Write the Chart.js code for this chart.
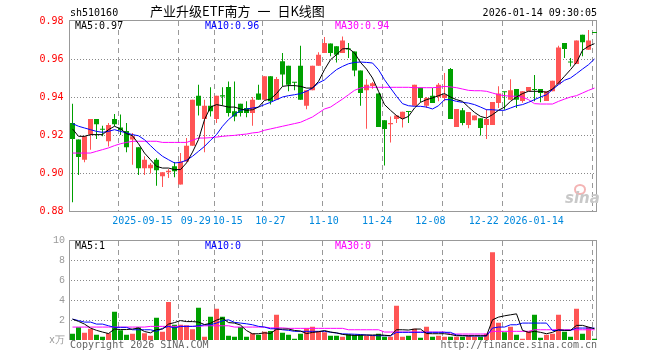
<!DOCTYPE html>
<html><head><meta charset="utf-8">
<script src="https://cdn.jsdelivr.net/npm/chart.js@4.4.1/dist/chart.umd.min.js"></script>
<style>
html,body{margin:0;padding:0;background:#fff;}
#wrap{position:relative;width:660px;height:360px;overflow:hidden;background:#fff;}
canvas{position:absolute;left:0;}
.t{position:absolute;font-family:"DejaVu Sans Mono",monospace;font-size:10px;line-height:12px;white-space:pre;}
</style></head>
<body><div id="wrap">
<canvas id="kc" width="660" height="230" style="top:0;width:660px;height:230px"></canvas>
<canvas id="vc" width="660" height="130" style="top:230px;width:660px;height:130px"></canvas>
<div class="t" style="left:70px;top:7px;color:#000">sh510160</div>
<div class="t" style="left:150px;top:3px;font-family:'Noto Sans CJK SC',sans-serif;font-size:13px;line-height:15px;word-spacing:4px;color:#000">产业升级ETF南方 一 日K线图</div>
<div class="t" style="right:63px;top:7px;color:#000">2026-01-14 09:30:05</div>
<div class="t" style="left:75px;top:20px;color:#000">MA5:0.97</div>
<div class="t" style="left:205px;top:20px;color:#0000ff">MA10:0.96</div>
<div class="t" style="left:335px;top:20px;color:#ff00ff">MA30:0.94</div>
<div class="t" style="left:75px;top:240px;color:#000">MA5:1</div>
<div class="t" style="left:205px;top:240px;color:#0000ff">MA10:0</div>
<div class="t" style="left:335px;top:240px;color:#ff00ff">MA30:0</div>
<div class="t" style="left:70px;top:339px;color:#666">Copyright 2026 SINA.COM</div>
<div class="t" style="right:63px;top:339px;color:#666">http://finance.sina.com.cn</div>
<div style="position:absolute;left:574px;top:184px;width:8px;height:7px;border:2px solid #f4b4b4;border-radius:50%"></div>
<div class="t" style="left:565px;top:190px;font-family:'DejaVu Sans',sans-serif;font-style:italic;font-weight:bold;font-size:15px;line-height:16px;color:#c8c8c8">sina</div>
</div>
<script>
const dates = ['2025-09-03','2025-09-04','2025-09-05','2025-09-08','2025-09-09','2025-09-10','2025-09-11','2025-09-12','2025-09-15','2025-09-16','2025-09-17','2025-09-18','2025-09-19','2025-09-22','2025-09-23','2025-09-24','2025-09-25','2025-09-26','2025-09-29','2025-09-30','2025-10-09','2025-10-10','2025-10-13','2025-10-14','2025-10-15','2025-10-16','2025-10-17','2025-10-20','2025-10-21','2025-10-22','2025-10-23','2025-10-24','2025-10-27','2025-10-28','2025-10-29','2025-10-30','2025-10-31','2025-11-03','2025-11-04','2025-11-05','2025-11-06','2025-11-07','2025-11-10','2025-11-11','2025-11-12','2025-11-13','2025-11-14','2025-11-17','2025-11-18','2025-11-19','2025-11-20','2025-11-21','2025-11-24','2025-11-25','2025-11-26','2025-11-27','2025-11-28','2025-12-01','2025-12-02','2025-12-03','2025-12-04','2025-12-05','2025-12-08','2025-12-09','2025-12-10','2025-12-11','2025-12-12','2025-12-15','2025-12-16','2025-12-17','2025-12-18','2025-12-19','2025-12-22','2025-12-23','2025-12-24','2025-12-25','2025-12-26','2025-12-29','2025-12-30','2025-12-31','2026-01-05','2026-01-06','2026-01-07','2026-01-08','2026-01-09','2026-01-12','2026-01-13','2026-01-14'];

const openP = [0.9263,0.9176,0.9070,0.9202,0.9284,0.9233,0.9167,0.9284,0.9240,0.9221,0.9176,0.9135,0.9025,0.9025,0.9070,0.8983,0.9004,0.9035,0.8940,0.9061,0.9144,0.9407,0.9284,0.9354,0.9284,0.9409,0.9453,0.9325,0.9365,0.9342,0.9316,0.9418,0.9386,0.9509,0.9386,0.9588,0.9565,0.9479,0.9565,0.9354,0.9435,0.9565,0.9632,0.9681,0.9667,0.9632,0.9655,0.9640,0.9540,0.9435,0.9458,0.9418,0.9277,0.9256,0.9284,0.9288,0.9325,0.9354,0.9449,0.9354,0.9407,0.9400,0.9395,0.9547,0.9242,0.9330,0.9253,0.9277,0.9288,0.9253,0.9253,0.9368,0.9428,0.9386,0.9442,0.9379,0.9430,0.9440,0.9442,0.9379,0.9430,0.9467,0.9684,0.9584,0.9574,0.9728,0.9649,0.9737];
const highP = [0.9365,0.9176,0.9193,0.9284,0.9284,0.9249,0.9263,0.9311,0.9308,0.9263,0.9211,0.9135,0.9088,0.9053,0.9079,0.9004,0.9021,0.9058,0.9105,0.9184,0.9386,0.9465,0.9386,0.9451,0.9407,0.9451,0.9482,0.9482,0.9365,0.9377,0.9400,0.9465,0.9509,0.9509,0.9505,0.9632,0.9565,0.9479,0.9670,0.9435,0.9565,0.9635,0.9716,0.9681,0.9667,0.9719,0.9684,0.9640,0.9540,0.9493,0.9479,0.9418,0.9277,0.9298,0.9305,0.9323,0.9325,0.9465,0.9449,0.9400,0.9447,0.9474,0.9526,0.9553,0.9337,0.9342,0.9321,0.9302,0.9288,0.9335,0.9374,0.9456,0.9428,0.9493,0.9442,0.9430,0.9453,0.9516,0.9442,0.9430,0.9486,0.9670,0.9684,0.9605,0.9697,0.9728,0.9753,0.9737];
const lowP = [0.8846,0.8990,0.9056,0.9123,0.9179,0.9193,0.9140,0.9246,0.9200,0.9109,0.9044,0.8990,0.8990,0.8997,0.8933,0.8926,0.8974,0.8977,0.8940,0.9061,0.9144,0.9302,0.9109,0.9298,0.9263,0.9354,0.9298,0.9272,0.9298,0.9293,0.9249,0.9386,0.9386,0.9360,0.9386,0.9456,0.9430,0.9435,0.9386,0.9335,0.9435,0.9565,0.9632,0.9614,0.9582,0.9632,0.9605,0.9509,0.9354,0.9233,0.9444,0.9242,0.9040,0.9161,0.9263,0.9240,0.9263,0.9354,0.9372,0.9342,0.9368,0.9377,0.9377,0.9284,0.9242,0.9251,0.9235,0.9277,0.9197,0.9179,0.9253,0.9342,0.9333,0.9386,0.9342,0.9370,0.9430,0.9377,0.9372,0.9379,0.9430,0.9467,0.9605,0.9561,0.9574,0.9614,0.9649,0.9737];
const closeP = [0.9179,0.9084,0.9193,0.9284,0.9256,0.9228,0.9253,0.9256,0.9225,0.9135,0.9193,0.9025,0.9070,0.9044,0.9014,0.9004,0.9012,0.9009,0.9061,0.9144,0.9386,0.9354,0.9354,0.9325,0.9407,0.9403,0.9316,0.9298,0.9316,0.9316,0.9386,0.9386,0.9509,0.9377,0.9495,0.9518,0.9465,0.9475,0.9386,0.9435,0.9565,0.9623,0.9684,0.9632,0.9623,0.9698,0.9650,0.9540,0.9421,0.9465,0.9472,0.9242,0.9232,0.9263,0.9302,0.9323,0.9321,0.9465,0.9395,0.9395,0.9368,0.9465,0.9412,0.9284,0.9337,0.9263,0.9321,0.9302,0.9237,0.9284,0.9374,0.9418,0.9425,0.9435,0.9386,0.9430,0.9453,0.9437,0.9421,0.9430,0.9486,0.9661,0.9653,0.9582,0.9697,0.9688,0.9697,0.9737];

const ma5 = [0.9232,0.9193,0.9193,0.9202,0.9202,0.9202,0.9228,0.9246,0.9232,0.9207,0.9196,0.9154,0.9105,0.9070,0.9035,0.9026,0.9026,0.9018,0.9018,0.9053,0.9110,0.9176,0.9281,0.9347,0.9360,0.9354,0.9347,0.9347,0.9337,0.9330,0.9333,0.9347,0.9382,0.9389,0.9418,0.9456,0.9460,0.9460,0.9456,0.9447,0.9447,0.9482,0.9544,0.9596,0.9623,0.9653,0.9656,0.9632,0.9582,0.9547,0.9500,0.9430,0.9360,0.9330,0.9302,0.9284,0.9298,0.9342,0.9372,0.9386,0.9395,0.9407,0.9418,0.9400,0.9386,0.9377,0.9347,0.9319,0.9298,0.9289,0.9307,0.9330,0.9347,0.9377,0.9400,0.9418,0.9430,0.9430,0.9430,0.9425,0.9442,0.9474,0.9509,0.9544,0.9582,0.9646,0.9667,0.9681];
const ma10 = [0.9260,0.9246,0.9237,0.9228,0.9219,0.9214,0.9219,0.9228,0.9219,0.9211,0.9202,0.9196,0.9175,0.9144,0.9114,0.9088,0.9070,0.9053,0.9056,0.9067,0.9088,0.9114,0.9140,0.9172,0.9202,0.9246,0.9281,0.9307,0.9330,0.9337,0.9342,0.9347,0.9360,0.9372,0.9386,0.9400,0.9407,0.9412,0.9418,0.9430,0.9447,0.9474,0.9490,0.9518,0.9544,0.9561,0.9575,0.9582,0.9584,0.9582,0.9579,0.9544,0.9491,0.9447,0.9404,0.9365,0.9354,0.9351,0.9351,0.9347,0.9337,0.9354,0.9386,0.9386,0.9377,0.9372,0.9368,0.9360,0.9347,0.9333,0.9333,0.9330,0.9330,0.9342,0.9354,0.9360,0.9372,0.9386,0.9400,0.9412,0.9439,0.9465,0.9488,0.9500,0.9523,0.9547,0.9570,0.9600];
const ma30 = [0.9105,0.9105,0.9105,0.9105,0.9114,0.9123,0.9132,0.9144,0.9154,0.9161,0.9167,0.9167,0.9167,0.9167,0.9167,0.9161,0.9161,0.9161,0.9161,0.9161,0.9172,0.9184,0.9184,0.9186,0.9189,0.9193,0.9196,0.9198,0.9202,0.9205,0.9211,0.9214,0.9225,0.9232,0.9239,0.9246,0.9253,0.9260,0.9267,0.9281,0.9295,0.9316,0.9337,0.9347,0.9368,0.9389,0.9412,0.9435,0.9447,0.9453,0.9451,0.9451,0.9451,0.9451,0.9451,0.9451,0.9451,0.9449,0.9449,0.9449,0.9449,0.9451,0.9456,0.9453,0.9449,0.9442,0.9435,0.9433,0.9433,0.9430,0.9421,0.9412,0.9407,0.9404,0.9404,0.9400,0.9386,0.9365,0.9363,0.9363,0.9363,0.9377,0.9389,0.9400,0.9407,0.9421,0.9435,0.9447];

const volume = [0.63,1.27,0.73,1.13,0.53,0.33,0.67,2.83,0.97,0.53,0.63,1.27,0.67,0.43,2.23,0.83,3.83,1.53,1.53,1.47,1.07,3.23,0.33,2.33,3.13,2.33,0.43,0.33,1.30,0.33,0.67,0.53,0.83,0.90,2.53,0.73,0.53,0.13,0.63,1.17,1.33,0.87,0.77,0.43,0.43,0.33,0.57,0.53,0.53,0.43,0.43,0.63,0.33,0.33,3.43,0.33,0.43,1.13,0.23,1.33,0.33,0.43,0.33,0.33,0.33,0.33,0.43,0.33,0.33,0.63,8.83,1.73,0.77,1.33,0.53,0.13,0.87,2.53,0.23,0.53,0.63,2.53,0.83,0.33,3.13,0.63,1.30,0.13];
const volMa5 = [2.10,1.87,1.60,1.20,0.97,0.80,0.65,1.10,1.05,1.05,1.10,1.20,0.85,0.72,1.05,1.10,1.60,1.75,1.95,1.85,1.85,1.80,1.55,1.68,2.00,2.20,1.75,1.70,1.50,0.95,0.62,0.63,0.72,0.66,1.08,1.10,1.10,0.96,0.90,0.65,0.76,0.83,0.95,0.80,0.72,0.56,0.50,0.46,0.48,0.50,0.50,0.52,0.48,0.43,1.03,1.03,1.00,1.10,1.10,0.65,0.63,0.63,0.63,0.55,0.43,0.43,0.43,0.43,0.43,0.43,2.03,2.30,2.43,2.53,2.63,0.97,0.77,0.87,0.77,0.63,0.77,1.03,0.97,0.97,1.47,1.47,1.30,1.13];
const volMa10 = [2.10,1.95,1.80,1.80,1.60,1.60,1.43,1.27,1.27,1.27,1.03,1.03,1.03,1.03,0.87,1.17,1.37,1.20,1.37,1.37,1.37,1.43,1.53,1.53,1.70,1.93,2.03,1.77,1.70,1.63,1.53,1.37,1.30,1.13,1.13,1.03,0.97,0.87,0.87,0.87,0.87,0.87,0.87,0.78,0.70,0.62,0.60,0.58,0.55,0.50,0.45,0.43,0.43,0.43,0.77,0.77,0.77,0.77,0.77,0.77,0.77,0.77,0.77,0.77,0.50,0.45,0.40,0.40,0.40,0.40,1.20,1.30,1.30,1.53,1.53,1.70,1.70,1.70,1.70,1.70,0.95,0.97,0.97,0.97,1.20,1.20,1.20,1.20];
const volMa30 = [1.30,1.30,1.30,1.30,1.30,1.30,1.30,1.30,1.30,1.30,1.30,1.30,1.30,1.37,1.37,1.37,1.37,1.37,1.37,1.37,1.37,1.37,1.43,1.43,1.43,1.43,1.43,1.30,1.30,1.30,1.30,1.30,1.30,1.22,1.22,1.22,1.17,1.17,1.17,1.17,1.17,1.17,1.17,1.17,1.17,1.17,1.03,1.03,1.03,1.03,1.03,1.03,0.80,0.80,0.80,0.80,0.80,0.80,0.80,0.80,0.80,0.80,0.80,0.60,0.60,0.60,0.60,0.60,0.60,0.60,0.87,0.87,0.87,0.87,0.87,0.87,0.87,1.03,1.03,1.03,1.03,1.03,1.03,1.03,1.03,1.03,1.03,1.03];

const xTickDates = ['2025-09-15','2025-09-29','2025-10-15','2025-10-27','2025-11-10','2025-11-24','2025-12-08','2025-12-22','2026-01-14'];
const xTickText = ['2025-09-15','09-29','10-15','10-27','11-10','11-24','12-08','12-22','2026-01-14'];
const priceTicks = [0.88,0.90,0.92,0.94,0.96,0.98];
const volTicks = [0,2,4,6,8,10];
const volUnit = 'x万';

const RED = '#ff5555', GREEN = '#00a000';
const candleColor = openP.map((o,i)=> closeP[i] > o ? RED : GREEN);
const tickIdx = xTickDates.map(d => dates.indexOf(d));
const N = dates.length;
const SHIFT = 2/6;
const MONO = '"DejaVu Sans Mono", monospace';

function framePlugin(drawBottom, yTicks, yMin, yMax){
  return {
    id:'frame',
    beforeDatasetsDraw(chart){
      const a = chart.chartArea, c = chart.ctx, sx = chart.scales.x, sy = chart.scales.y;
      const top = Math.round(a.top), bottom = Math.round(a.bottom);
      const left = Math.floor(a.left), right = Math.floor(a.right);
      c.save();
      // horizontal dotted grid (1px dots, 2px gaps)
      c.fillStyle = '#888';
      yTicks.forEach(v => {
        if (v <= yMin || v >= yMax) return;
        const y = Math.round(sy.getPixelForValue(v));
        for (let x = left + 2; x < right; x += 3) c.fillRect(x, y, 1, 1);
      });
      // vertical dashed grid at labelled dates (5px dash, 4px gap)
      c.fillStyle = '#999';
      tickIdx.forEach(i => {
        const x = Math.floor(sx.getPixelForValue(i) - 2);
        for (let y = top; y < bottom; y += 9) c.fillRect(x, y, 1, Math.min(5, bottom - y));
      });
      // frame
      c.fillStyle = '#999';
      c.fillRect(left, top - 1, right - left, 1);
      c.fillRect(left, top - 1, 1, bottom - top + 1);
      c.fillRect(right - 1, top - 1, 1, bottom - top + 1);
      if (drawBottom) c.fillRect(left, bottom, right - left, 1);
      c.restore();
    }
  };
}

function labelAxis(showLabels, h){
  return {
    type:'linear', position:'bottom',
    min: -0.5 + SHIFT, max: N - 0.5 + SHIFT,
    afterBuildTicks: s => { s.ticks = tickIdx.map(v => ({value:v})); },
    grid: { display:false, drawTicks:false },
    border: { display:false },
    ticks: {
      display: showLabels, autoSkip:false, maxRotation:0, padding:4,
      color:'#0088dd', font:{family:MONO, size:10},
      callback: (v, i) => { const t = xTickText[i] || ''; return i === xTickText.length-1 ? t + ' '.repeat(t.length) : t; }
    },
    afterFit: s => { s.height = h; }
  };
}

new Chart(document.getElementById('kc'), {
  type:'bar',
  data:{
    labels: dates,
    datasets:[
      {type:'line', data:ma5, borderColor:'#000', borderWidth:1, pointRadius:0, tension:0, order:0, xAxisID:'x', yAxisID:'y'},
      {type:'line', data:ma10, borderColor:'#0000ff', borderWidth:1, pointRadius:0, tension:0, order:0, xAxisID:'x', yAxisID:'y'},
      {type:'line', data:ma30, borderColor:'#ff00ff', borderWidth:1, pointRadius:0, tension:0, order:0, xAxisID:'x', yAxisID:'y'},
      {type:'bar', data: lowP.map((l,i)=>[l, highP[i]]), backgroundColor:candleColor, barThickness:1, grouped:false, inflateAmount:0, order:2, xAxisID:'x', yAxisID:'y'},
      {type:'bar', data: openP.map((o,i)=>[o, closeP[i]]), backgroundColor:candleColor, barThickness:5, grouped:false, minBarLength:1, inflateAmount:0, order:1, xAxisID:'x', yAxisID:'y'}
    ]
  },
  options:{
    responsive:false, animation:false, devicePixelRatio:1, events:[],
    layout:{padding:{top:21, right:62.5, left:0, bottom:0}},
    plugins:{legend:{display:false}, tooltip:{enabled:false}},
    scales:{
      x:{type:'category', display:false, offset:true},
      x2: labelAxis(true, 19),
      y:{
        type:'linear', position:'left', min:0.88, max:0.98,
        afterBuildTicks: s => { s.ticks = priceTicks.map(v => ({value:v})); },
        grid:{ display:false, drawTicks:false },
        border:{display:false},
        ticks:{ color:'#ff0000', padding:6, font:{family:MONO, size:10}, callback: v => v.toFixed(2) },
        afterFit: s => { s.width = 69.5; }
      }
    }
  },
  plugins:[framePlugin(true, priceTicks, 0.88, 0.98)]
});

new Chart(document.getElementById('vc'), {
  type:'bar',
  data:{
    labels: dates,
    datasets:[
      {type:'line', data:volMa5, borderColor:'#000', borderWidth:1, pointRadius:0, tension:0, order:0, xAxisID:'x', yAxisID:'y'},
      {type:'line', data:volMa10, borderColor:'#0000ff', borderWidth:1, pointRadius:0, tension:0, order:0, xAxisID:'x', yAxisID:'y'},
      {type:'line', data:volMa30, borderColor:'#ff00ff', borderWidth:1, pointRadius:0, tension:0, order:0, xAxisID:'x', yAxisID:'y'},
      {type:'bar', data:volume, backgroundColor:candleColor, barThickness:5, inflateAmount:0, order:1, xAxisID:'x', yAxisID:'y'}
    ]
  },
  options:{
    responsive:false, animation:false, devicePixelRatio:1, events:[],
    layout:{padding:{top:10, right:62.5, left:0, bottom:0}},
    plugins:{legend:{display:false}, tooltip:{enabled:false}},
    scales:{
      x:{type:'category', display:false, offset:true},
      x2: labelAxis(false, 20),
      y:{
        type:'linear', position:'left', min:0, max:10,
        afterBuildTicks: s => { s.ticks = volTicks.map(v => ({value:v})); },
        grid:{ display:false, drawTicks:false },
        border:{display:false},
        ticks:{ color:'#999', padding:4.5, font:{family:'"Liberation Mono", monospace', size:10}, callback: v => v === 0 ? volUnit : String(v) },
        afterFit: s => { s.width = 69.5; }
      }
    }
  },
  plugins:[framePlugin(false, volTicks, 0, 10)]
});
</script>
</body></html>
